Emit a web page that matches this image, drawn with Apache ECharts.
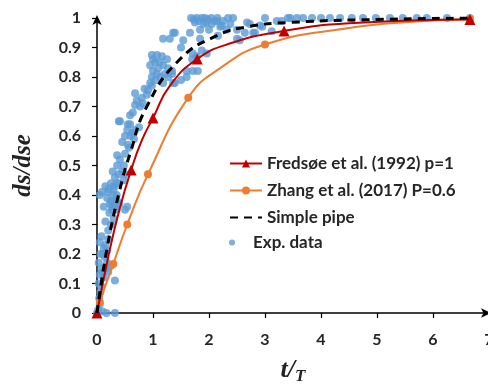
<!DOCTYPE html>
<html><head><meta charset="utf-8">
<script src="https://cdn.jsdelivr.net/npm/echarts@6/dist/echarts.min.js"></script>
<style>html,body{margin:0;padding:0;background:#fff}#c{width:488px;height:385px}</style>
</head><body><div id="c"></div>
<script>
var xTicks = [0,1,2,3,4,5,6,7];
var yTicks = [0,0.1,0.2,0.3,0.4,0.5,0.6,0.7,0.8,0.9,1];

// Fredsøe et al. (1992) p=1 : [x, y, showMarker]
var fredsoe = [[0,0,1],[0.2,0.19,0],[0.4,0.35,0],[0.61,0.485,1],[0.8,0.585,0],[1.0,0.661,1],[1.3,0.77,0],[1.79,0.861,1],[2.4,0.915,0],[3.34,0.956,1],[4.5,0.982,0],[6.66,0.995,1]];
// Zhang et al. (2017) P=0.6
var zhang = [[0,0,0],[0.05,0.037,1],[0.29,0.166,1],[0.54,0.30,1],[0.91,0.47,1],[1.63,0.73,1],[2.2,0.83,0],[3.0,0.91,1],[4.5,0.966,0],[5.7,0.988,0],[6.66,0.997,1]];
// Simple pipe
var simplePipe = [[0,0],[0.18,0.22],[0.41,0.42],[0.59,0.54],[0.89,0.70],[1.48,0.86],[2.14,0.94],[2.68,0.97],[3.45,0.985],[5,0.995],[6.66,1]];
// Exp. data
var expData = [
[0,0],[0.02,0.01],[0.17,0],[0.32,0],[0.1,0.005],[0.05,0.03],[0.04,0.05],[0.06,0.07],[0.08,0.09],[0.03,0.1],
[0.05,0.13],[0.1,0.14],[0.15,0.15],[0.08,0.15],[0.2,0.14],[0.12,0.12],[0.25,0.16],[0.32,0.11],[0.06,0.2],[0.12,0.22],[0.1,0.2],[0.18,0.21],[0.15,0.23],[0.05,0.24],[0.2,0.25],[0.08,0.26],[0.14,0.19],[0.03,0.17],[0.18,0.17],
[0.2,0.28],[0.25,0.3],[0.15,0.31],[0.3,0.32],[0.22,0.34],[0.35,0.35],[0.27,0.36],[0.12,0.36],[0.32,0.38],[0.25,0.38],[0.4,0.37],[0.5,0.35],[0.18,0.39],[0.05,0.4],[0.2,0.41],[0.35,0.4],[0.3,0.42],[0.15,0.43],[0.25,0.44],[0.38,0.44],[0.09,0.41],[0.21,0.42],[0.3,0.43],[0.3,0.4],[0.36,0.38],[0.23,0.37],[0.32,0.36],[0.27,0.35],[0.54,0.36],
[0.36,0.44],[0.48,0.45],[0.39,0.47],[0.5,0.47],[0.45,0.48],[0.36,0.5],[0.48,0.5],[0.41,0.52],[0.36,0.535],[0.5,0.54],[0.57,0.56],[0.45,0.58],[0.66,0.59],[0.5,0.6],[0.63,0.61],[0.54,0.62],[0.68,0.62],[0.75,0.63],[0.39,0.65],[0.59,0.64],[0.28,0.48],[0.32,0.46],[0.55,0.57],[0.6,0.6],
[0.41,0.65],[0.55,0.64],[0.59,0.67],[0.64,0.68],[0.68,0.705],[0.71,0.72],[0.77,0.70],[0.82,0.71],[0.80,0.73],[0.89,0.74],[0.91,0.755],[0.98,0.77],[0.95,0.78],[1.04,0.79],[0.98,0.8],[1.07,0.81],[1.0,0.82],[1.09,0.83],[0.95,0.84],[1.04,0.85],[0.98,0.875],[1.07,0.875],[1.16,0.87],[1.25,0.86],[1.18,0.84],[1.27,0.83],[1.34,0.82],[1.21,0.81],[1.13,0.80],[1.18,0.78],[1.27,0.80],[1.34,0.81],[1.39,0.78],[0.68,0.745],[0.85,0.76],[1.0,0.86],[1.12,0.85],[1.5,0.79],[1.6,0.80],[1.36,0.78],
[1.18,0.93],[1.39,0.95],[1.54,0.925],[1.30,0.93],[1.66,0.95],[1.84,0.96],[1.84,0.93],[1.9,0.98],[2.05,0.98],[2.2,0.97],[2.34,1.0],[2.38,0.98],[2.5,0.96],[2.55,0.925],[2.64,0.95],[2.73,0.98],[1.71,0.88],[1.87,0.89],[1.6,0.82],[1.71,0.82],[1.80,0.82],[1.7,0.86],[1.78,0.87],[1.96,0.88],[1.5,0.9],[1.36,0.95],[2.43,1.0],[2.14,0.99],[2.23,0.975],[2.32,0.96],[2.16,0.94],[2.5,0.93],
[1.68,1.0],[1.73,0.995],[1.78,1.0],[1.82,0.99],[1.87,1.0],[1.93,1.0],[1.98,0.995],[2.04,1.0],[2.1,0.99],[2.15,1.0],[1.75,0.985],[1.95,0.985],[2.0,0.96],[2.25,0.99],
[2.68,0.985],[2.79,0.95],[2.91,0.975],[3.0,1.0],[3.12,0.955],[3.21,0.99],[3.41,1.0],[2.82,0.95],[2.95,0.97],[3.3,0.99],
[3.45,1],[3.57,1],[3.68,1],[3.84,1],[4.0,1],[4.16,1],[4.34,1],[4.55,1],[4.75,1],[4.98,1],[5.23,1],[5.46,1],[5.71,1],[5.89,1],[6.25,1],[6.66,1]
];

function withMarkers(arr){
  return arr.map(function(p){ return {value:[p[0],p[1]], symbolSize: p[2] ? undefined : 0}; });
}

var lab = {fontFamily:'Lato', fontWeight:'bold', fontSize:16, color:'#262626'};
var legLab = {fontFamily:'Lato', fontWeight:'bold', fontSize:17, color:'#262626'};
var chart = echarts.init(document.getElementById('c'), null, {renderer:'canvas'});
chart.setOption({
  animation:false,
  backgroundColor:'#fff',
  grid:{left:97, top:18, width:392, height:295, containLabel:false, outerBoundsMode:'none'},
  legend:[{
    left:224, top:150, orient:'vertical', itemWidth:32, itemHeight:10, itemGap:10,
    data:[
      {name:'Fredsøe et al. (1992) p=1'},
      {name:'Zhang et al. (2017) P=0.6'},
      {name:'Simple pipe', itemStyle:{opacity:0}}
    ],
    textStyle:legLab
  },{
    left:224, top:229, orient:'vertical', itemWidth:32, itemHeight:6,
    data:['Exp. data'], textStyle:legLab
  }],
  xAxis:{
    type:'value', min:xTicks[0], max:xTicks[xTicks.length-1], interval:1,
    name:'{a|t/}{b|T}', nameLocation:'middle', nameGap:43,
    nameTextStyle:{rich:{
      a:{fontFamily:'Liberation Serif', fontStyle:'italic', fontWeight:'bold', fontSize:26, color:'#222'},
      b:{fontFamily:'Liberation Serif', fontStyle:'italic', fontWeight:'bold', fontSize:17, color:'#222', padding:[12,0,0,0]}
    }},
    axisLine:{show:true, lineStyle:{color:'#000', width:1.5}, symbol:['none','arrow'], symbolSize:[7,10], symbolOffset:[0,2]},
    axisTick:{show:true, length:5, lineStyle:{color:'#000', width:1.2}},
    axisLabel:Object.assign({margin:19}, lab),
    splitLine:{show:false}
  },
  yAxis:{
    type:'value', min:yTicks[0], max:yTicks[yTicks.length-1], interval:0.1,
    name:'ds/dse', nameLocation:'middle', nameGap:61, nameRotate:90,
    nameTextStyle:{fontFamily:'Liberation Serif', fontStyle:'italic', fontWeight:'bold', fontSize:25, color:'#222'},
    axisLine:{show:true, lineStyle:{color:'#000', width:1.5}, symbol:['none','arrow'], symbolSize:[7,10], symbolOffset:[0,3]},
    axisTick:{show:true, length:5, lineStyle:{color:'#000', width:1.2}},
    axisLabel:Object.assign({margin:16, formatter:function(v){return String(Math.round(v*10)/10);}}, lab),
    splitLine:{show:false}
  },
  series:[
    {name:'Exp. data', type:'scatter', data:expData, symbol:'circle', symbolSize:8, z:1,
     itemStyle:{color:'#5B9BD5'}},
    {name:'Zhang et al. (2017) P=0.6', type:'line', data:withMarkers(zhang), smooth:0.5, z:3,
     symbol:'circle', symbolSize:8, showSymbol:true, lineStyle:{color:'#ED7D31', width:2}, itemStyle:{color:'#ED7D31'}},
    {name:'Fredsøe et al. (1992) p=1', type:'line', data:withMarkers(fredsoe), smooth:0.5, z:4,
     symbol:'triangle', symbolSize:11, showSymbol:true, lineStyle:{color:'#C00000', width:2}, itemStyle:{color:'#C00000'}},
    {name:'Simple pipe', type:'line', data:simplePipe, smooth:0.5, z:5, symbol:'none', showSymbol:false,
     lineStyle:{color:'#000', width:3, type:[8,6]}, itemStyle:{color:'#000'}}
  ]
});
</script></body></html>
